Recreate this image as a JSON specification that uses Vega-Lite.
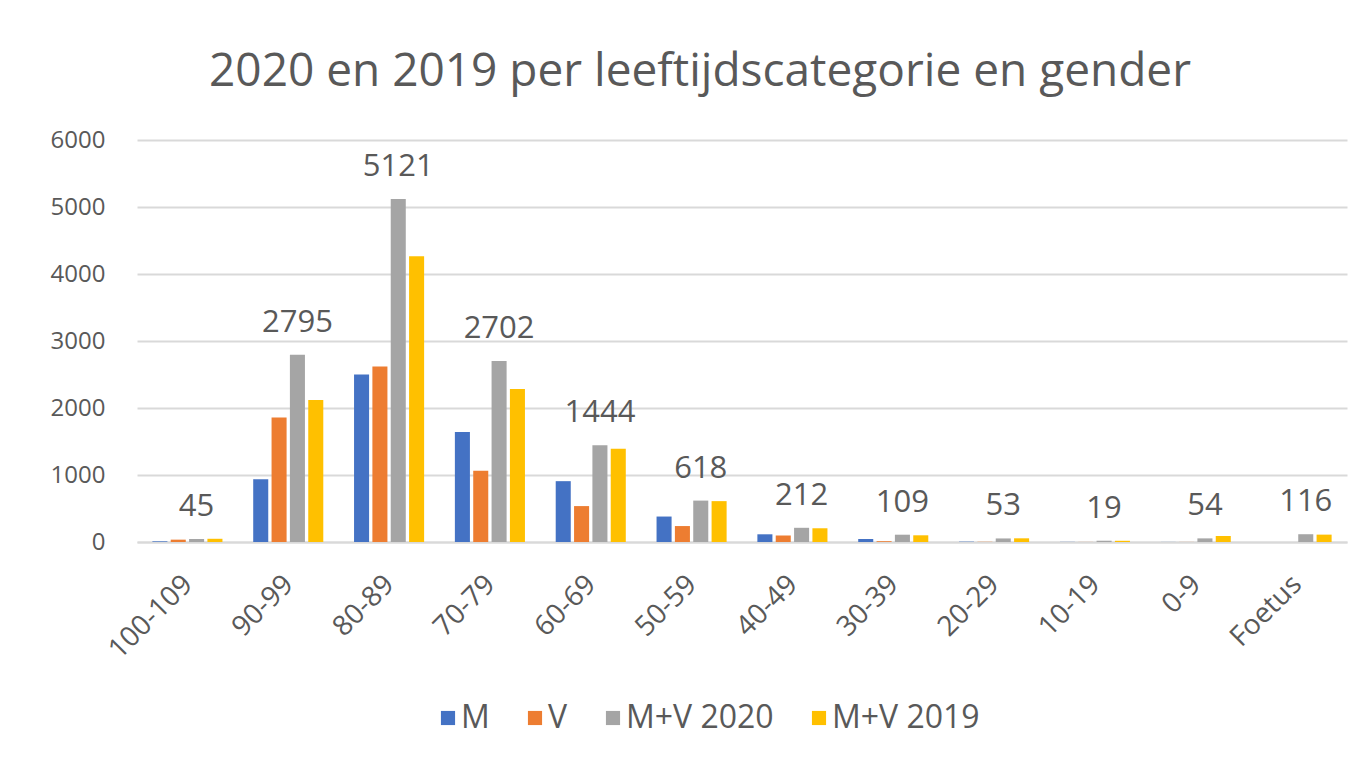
{
  "$schema": "https://vega.github.io/schema/vega-lite/v6.json",
  "width": 1210,
  "height": 402,
  "autosize": {"type": "none"},
  "padding": {"left": 137, "top": 140, "right": 25, "bottom": 223},
  "background": "white",
  "config": {"view": {"stroke": null}, "font": "Open Sans"},
  "title": {
    "text": "2020 en 2019 per leeftijdscategorie en gender",
    "font": "Open Sans",
    "fontSize": 46,
    "fontWeight": "normal",
    "color": "#595959",
    "anchor": "middle",
    "baseline": "alphabetic",
    "dx": -42,
    "offset": -4
  },
  "data": {
    "values": [
      {"age": "100-109", "series": "M", "value": 10},
      {"age": "100-109", "series": "V", "value": 35},
      {"age": "100-109", "series": "M+V 2020", "value": 45},
      {"age": "100-109", "series": "M+V 2019", "value": 48},
      {"age": "90-99", "series": "M", "value": 937},
      {"age": "90-99", "series": "V", "value": 1858},
      {"age": "90-99", "series": "M+V 2020", "value": 2795},
      {"age": "90-99", "series": "M+V 2019", "value": 2120},
      {"age": "80-89", "series": "M", "value": 2500},
      {"age": "80-89", "series": "V", "value": 2621},
      {"age": "80-89", "series": "M+V 2020", "value": 5121},
      {"age": "80-89", "series": "M+V 2019", "value": 4265},
      {"age": "70-79", "series": "M", "value": 1640},
      {"age": "70-79", "series": "V", "value": 1062},
      {"age": "70-79", "series": "M+V 2020", "value": 2702},
      {"age": "70-79", "series": "M+V 2019", "value": 2285},
      {"age": "60-69", "series": "M", "value": 908},
      {"age": "60-69", "series": "V", "value": 536},
      {"age": "60-69", "series": "M+V 2020", "value": 1444},
      {"age": "60-69", "series": "M+V 2019", "value": 1390},
      {"age": "50-59", "series": "M", "value": 380},
      {"age": "50-59", "series": "V", "value": 238},
      {"age": "50-59", "series": "M+V 2020", "value": 618},
      {"age": "50-59", "series": "M+V 2019", "value": 610},
      {"age": "40-49", "series": "M", "value": 115},
      {"age": "40-49", "series": "V", "value": 97},
      {"age": "40-49", "series": "M+V 2020", "value": 212},
      {"age": "40-49", "series": "M+V 2019", "value": 205},
      {"age": "30-39", "series": "M", "value": 45},
      {"age": "30-39", "series": "V", "value": 12},
      {"age": "30-39", "series": "M+V 2020", "value": 109},
      {"age": "30-39", "series": "M+V 2019", "value": 100},
      {"age": "20-29", "series": "M", "value": 5},
      {"age": "20-29", "series": "V", "value": 3},
      {"age": "20-29", "series": "M+V 2020", "value": 53},
      {"age": "20-29", "series": "M+V 2019", "value": 55},
      {"age": "10-19", "series": "M", "value": 2},
      {"age": "10-19", "series": "V", "value": 1},
      {"age": "10-19", "series": "M+V 2020", "value": 19},
      {"age": "10-19", "series": "M+V 2019", "value": 18},
      {"age": "0-9", "series": "M", "value": 1},
      {"age": "0-9", "series": "V", "value": 1},
      {"age": "0-9", "series": "M+V 2020", "value": 54},
      {"age": "0-9", "series": "M+V 2019", "value": 90},
      {"age": "Foetus", "series": "M", "value": 0},
      {"age": "Foetus", "series": "V", "value": 0},
      {"age": "Foetus", "series": "M+V 2020", "value": 116},
      {"age": "Foetus", "series": "M+V 2019", "value": 110}
    ]
  },
  "encoding": {
    "x": {
      "field": "age",
      "type": "nominal",
      "sort": ["100-109", "90-99", "80-89", "70-79", "60-69", "50-59", "40-49", "30-39", "20-29", "10-19", "0-9", "Foetus"],
      "scale": {"paddingInner": 0.305, "paddingOuter": 0.1525},
      "axis": {
        "title": null,
        "labelAngle": -45,
        "labelAlign": "right",
        "labelBaseline": "top",
        "labelPadding": 28,
        "labelOffset": -9,
        "labelFontSize": 28,
        "labelColor": "#595959",
        "ticks": false,
        "tickSize": 0,
        "domainColor": "#d9d9d9",
        "domainWidth": 2
      }
    },
    "y": {
      "field": "value",
      "type": "quantitative",
      "scale": {"domain": [0, 6000]},
      "axis": {
        "title": null,
        "values": [0, 1000, 2000, 3000, 4000, 5000, 6000],
        "domain": false,
        "ticks": false,
        "tickSize": 0,
        "labelPadding": 32,
        "labelFontSize": 24,
        "labelColor": "#595959",
        "gridColor": "#d9d9d9",
        "gridWidth": 2,
        "format": "d"
      }
    },
    "xOffset": {
      "field": "series",
      "type": "nominal",
      "scale": {"domain": ["M", "V", "M+V 2020", "M+V 2019"], "paddingInner": 0.18}
    }
  },
  "layer": [
    {
      "mark": {"type": "bar"},
      "encoding": {
        "color": {
          "field": "series",
          "type": "nominal",
          "scale": {"domain": ["M", "V", "M+V 2020", "M+V 2019"], "range": ["#4472C4", "#ED7D31", "#A5A5A5", "#FFC000"]},
          "legend": {
            "title": null,
            "orient": "none",
            "legendX": 295,
            "legendY": 562,
            "direction": "horizontal",
            "symbolType": "square",
            "symbolSize": 200,
            "symbolStrokeWidth": 0,
            "labelFontSize": 32,
            "labelColor": "#595959",
            "columnPadding": 29,
            "labelOffset": -3
          }
        }
      }
    },
    {
      "transform": [{"filter": "datum.series === 'M+V 2020'"}],
      "mark": {"type": "text", "dy": -23, "baseline": "alphabetic", "fontSize": 31, "color": "#595959"},
      "encoding": {"text": {"field": "value", "type": "quantitative", "format": "d"}}
    }
  ]
}
